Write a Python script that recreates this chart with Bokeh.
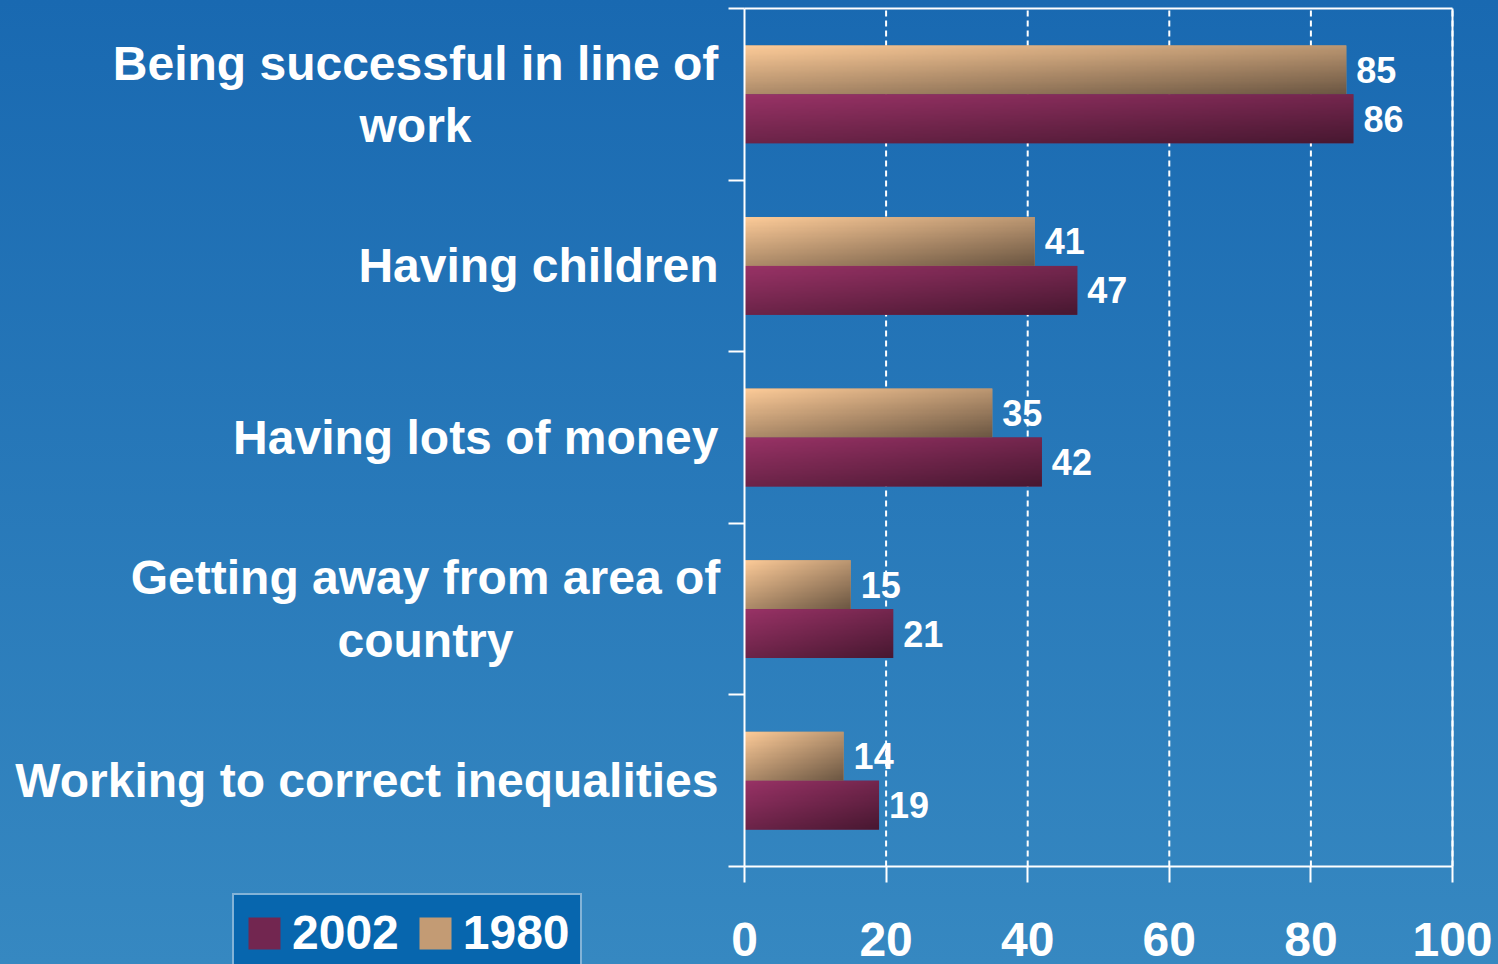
import numpy as np
from bokeh.plotting import figure
from bokeh.models import (ColumnDataSource, Range1d, FixedTicker, LabelSet, Label,
                          Legend, LegendItem, GlobalInlineStyleSheet)
from bokeh.core.properties import value
from bokeh.embed import file_html
from bokeh.resources import INLINE

# ---------------- data ----------------
categories = ["Being successful in line of\nwork",
              "Having children",
              "Having lots of money",
              "Getting away from area of\ncountry",
              "Working to correct inequalities"]
values_1980 = [85, 41, 35, 15, 14]
values_2002 = [86, 47, 42, 21, 19]
x_ticks = [0, 20, 40, 60, 80, 100]
series_names = ["2002", "1980"]

# ---------------- style ----------------
FONT = "Liberation Sans"
W, H = 1498, 964
X0_PX, X100_PX = 744, 1452      # pixel position of x=0 and x=100
TOP_PX, BOT_PX = 8, 866         # pixel position of the top / bottom of the category axis
BAR_H = 0.285
C1980 = ((0xFE, 0xCC, 0x99), (0x6C, 0x57, 0x43))
C2002 = ((0x9A, 0x33, 0x67), (0x48, 0x18, 0x31))
MID1980 = "#C39B74"
MID2002 = "#722650"


def gradient(c0, c1, ny=40, nx=160):
    img = np.empty((ny, nx), dtype=np.uint32)
    view = img.view(dtype=np.uint8).reshape((ny, nx, 4))
    u = np.linspace(0, 1, nx)[None, :]
    v = 1 - np.linspace(0, 1, ny)[:, None]  # row 0 = bottom
    t = 0.45 * u + 0.55 * v
    for k in range(3):
        view[:, :, k] = (c0[k] + (c1[k] - c0[k]) * t).astype(np.uint8)
    view[:, :, 3] = 255
    return img


n = len(categories)
centers = [n - 0.5 - i for i in range(n)]

xs = (X100_PX - X0_PX) / 100.0
ys = (BOT_PX - TOP_PX) / float(n)
x_range = Range1d(-X0_PX / xs, 100 + (W - X100_PX) / xs)
y_range = Range1d(-(H - BOT_PX) / ys, n + TOP_PX / ys)

p = figure(width=W, height=H, output_backend="svg", toolbar_location=None,
           x_range=x_range, y_range=y_range, min_border=0)
p.background_fill_alpha = 0
p.border_fill_alpha = 0
p.outline_line_color = None
p.styles = {"background": "linear-gradient(180deg, #1969B1 0%, #3688C1 100%)"}
p.stylesheets = [GlobalInlineStyleSheet(
    css="html{background:linear-gradient(180deg,#1969B1 0%,#3688C1 100%);min-height:100%;}")]

# grid lines (dashed) and plot border
p.xgrid.visible = False
p.ygrid.visible = False
p.segment(x0=x_ticks[1:], x1=x_ticks[1:], y0=0, y1=n, line_color="white",
          line_width=2, line_dash="6 4")
p.segment(x0=[0, 100], x1=[100, 100], y0=[n, 0], y1=[n, n], line_color="white",
          line_width=2)

src1980 = ColumnDataSource(dict(
    y_bot=list(centers), yc=[c + BAR_H / 2 for c in centers], v=values_1980,
    lbl=[str(v) for v in values_1980],
    img=[gradient(*C1980)] * n, zero=[0] * n, dh=[BAR_H] * n))
src2002 = ColumnDataSource(dict(
    y_bot=[c - BAR_H for c in centers],
    yc=[c - BAR_H / 2 for c in centers], v=values_2002,
    lbl=[str(v) for v in values_2002],
    img=[gradient(*C2002)] * n, zero=[0] * n, dh=[BAR_H] * n))

r1980 = p.hbar(y="yc", left=0, right="v", height=BAR_H, source=src1980,
               fill_color=MID1980, line_color=None)
r2002 = p.hbar(y="yc", left=0, right="v", height=BAR_H, source=src2002,
               fill_color=MID2002, line_color=None)
p.image_rgba(image="img", x="zero", y="y_bot", dw="v", dh="dh", source=src1980)
p.image_rgba(image="img", x="zero", y="y_bot", dw="v", dh="dh", source=src2002)

for src in (src1980, src2002):
    p.add_layout(LabelSet(x="v", y="yc", text="lbl", source=src, x_offset=10,
                          text_baseline="middle", text_align="left",
                          text_font=value(FONT), text_font_style="bold",
                          text_font_size="36px", text_color="white"))

# category labels
label_offsets = {0: -329, 3: -319}
for i, cat in enumerate(categories):
    if "\n" in cat:
        p.add_layout(Label(x=0, y=centers[i], x_offset=label_offsets[i], text=cat,
                           text_align="center", text_baseline="middle",
                           text_line_height=1.18,
                           text_font=FONT, text_font_style="bold",
                           text_font_size="48px", text_color="white"))
    else:
        p.add_layout(Label(x=0, y=centers[i], x_offset=-26, text=cat,
                           text_align="right", text_baseline="middle",
                           text_font=FONT, text_font_style="bold",
                           text_font_size="48px", text_color="white"))

# axes (fixed at x=0 / y=0)
xa = p.xaxis[0]
xa.fixed_location = 0
xa.bounds = (0, 100)
xa.ticker = FixedTicker(ticks=x_ticks)
xa.axis_line_color = "white"
xa.axis_line_width = 2
xa.major_tick_line_color = "white"
xa.major_tick_line_width = 2
xa.major_tick_out = 16
xa.major_tick_in = 0
xa.minor_tick_line_color = None
xa.major_label_standoff = 40
xa.major_label_text_font = FONT
xa.major_label_text_font_style = "bold"
xa.major_label_text_font_size = "48px"
xa.major_label_text_color = "white"

ya = p.yaxis[0]
ya.fixed_location = 0
ya.bounds = (0, n)
ya.ticker = FixedTicker(ticks=list(range(n + 1)))
ya.major_label_overrides = {k: "" for k in range(n + 1)}
ya.axis_line_color = "white"
ya.axis_line_width = 2
ya.major_tick_line_color = "white"
ya.major_tick_line_width = 2
ya.major_tick_out = 16
ya.major_tick_in = 0
ya.minor_tick_line_color = None

legend = Legend(items=[LegendItem(label=series_names[0], renderers=[r2002]),
                       LegendItem(label=series_names[1], renderers=[r1980])],
                orientation="horizontal", location=(232, -8),
                glyph_width=40, glyph_height=40, label_standoff=8, spacing=16,
                padding=10, margin=0,
                label_text_font=FONT, label_text_font_style="bold",
                label_text_font_size="48px", label_text_color="white",
                background_fill_color="#0766AE", background_fill_alpha=1,
                border_line_color="white", border_line_width=2)
p.add_layout(legend)

open("out.html", "w").write(file_html(p, INLINE))
